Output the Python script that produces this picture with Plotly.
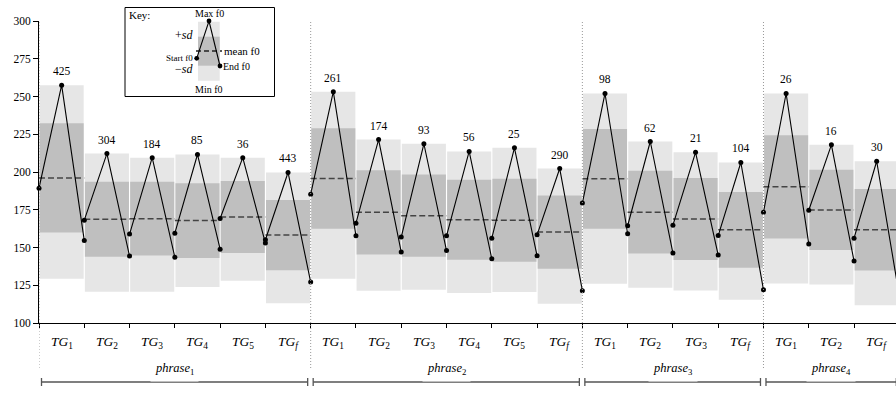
import plotly.graph_objects as go

# ---------------- data ----------------
phrases = ["1", "2", "3", "4"]
tg_labels = ["1", "2", "3", "4", "5", "f", "1", "2", "3", "4", "5", "f",
             "1", "2", "3", "f", "1", "2", "f"]
phrase_of = [0]*6 + [1]*6 + [2]*4 + [3]*3
counts = [425, 304, 184, 85, 36, 443, 261, 174, 93, 56, 25, 290,
          98, 62, 21, 104, 26, 16, 30]
max_f0 = [257.5, 212.2, 209.5, 211.6, 209.5, 199.7,
          253.2, 221.5, 218.7, 213.6, 216.0, 202.3,
          252.0, 220.2, 213.0, 206.3,
          252.0, 218.0, 207.1]
min_f0 = [129.3, 120.7, 120.7, 123.8, 128.0, 113.0,
          129.3, 121.4, 122.0, 119.8, 120.5, 112.8,
          126.0, 123.3, 121.6, 115.4,
          126.2, 125.5, 111.7]
mean_f0 = [196.1, 168.7, 169.1, 167.8, 170.2, 158.2,
           195.7, 173.3, 171.1, 168.4, 168.0, 160.2,
           195.5, 173.4, 168.9, 161.7,
           190.2, 174.9, 161.8]
sd_f0 = [36.2, 24.8, 24.4, 24.8, 23.9, 23.2,
         33.3, 27.9, 27.2, 26.5, 27.5, 24.3,
         33.0, 27.4, 27.2, 25.1,
         34.2, 26.6, 27.0]
start_f0 = [189.3, 168.1, 158.9, 159.5, 169.2, 155.1,
            185.3, 166.1, 156.9, 157.7, 156.2, 158.4,
            179.4, 164.4, 164.8, 157.9,
            173.4, 174.7, 156.2]
end_f0 = [154.6, 144.3, 143.6, 148.9, 152.9, 127.1,
          157.7, 147.0, 148.0, 142.5, 144.5, 121.4,
          159.1, 146.3, 145.0, 122.0,
          152.4, 141.0, 118.0]
y_ticks = [100, 125, 150, 175, 200, 225, 250, 275, 300]

# ---------------- styling ----------------
FONT = "Liberation Serif, DejaVu Serif, serif"
LIGHT = "#e6e6e6"
DARK = "#bfbfbf"
L, R, T, B = 39, 0, 21, 71
W, H = 896, 394
PW, PH = W - L - R, H - T - B
CAT_PX = 45.28
n = len(counts)


def px(x):
    return (x - L) / PW


def py(y):
    return (H - B - y) / PH


fig = go.Figure()
shapes = []
annotations = []
inset = 0.6 / CAT_PX

for i in range(n):
    shapes.append(dict(type="rect", xref="x", yref="y", x0=i + inset, x1=i + 1 - inset,
                       y0=min_f0[i], y1=max_f0[i], fillcolor=LIGHT, line=dict(width=0),
                       layer="below"))
    shapes.append(dict(type="rect", xref="x", yref="y", x0=i + inset, x1=i + 1 - inset,
                       y0=mean_f0[i] - sd_f0[i], y1=mean_f0[i] + sd_f0[i],
                       fillcolor=DARK, line=dict(width=0), layer="below"))
    shapes.append(dict(type="line", xref="x", yref="y", x0=i, x1=i + 1,
                       y0=mean_f0[i], y1=mean_f0[i],
                       line=dict(color="#444444", width=1.5, dash="6px,3px"), layer="below"))
    annotations.append(dict(x=i + 0.5, y=max_f0[i], xref="x", yref="y", text=str(counts[i]),
                            showarrow=False, yshift=14, font=dict(family=FONT, size=11.5, color="black")))
    annotations.append(dict(x=i + 0.5, y=py(353), xref="x", yref="paper",
                            text="<i>TG</i><sub>%s</sub>" % tg_labels[i] if tg_labels[i] != "f"
                            else "<i>TG<sub>f</sub></i>",
                            showarrow=False, font=dict(family=FONT, size=13.5, color="black")))

# contour lines
xs, ys = [], []
for i in range(n):
    xs += [i, i + 0.5, i + 1, None]
    ys += [start_f0[i], max_f0[i], end_f0[i], None]
fig.add_trace(go.Scatter(x=xs, y=ys, mode="lines+markers",
                         line=dict(color="black", width=1.1),
                         marker=dict(color="black", size=5), cliponaxis=False,
                         hoverinfo="skip", showlegend=False))

# phrase boundaries and brackets
bounds = [0]
for p in range(len(phrases)):
    bounds.append(bounds[-1] + phrase_of.count(p))
for b in bounds[:-1]:
    shapes.append(dict(type="line", xref="x", yref="paper", x0=b, x1=b, y0=py(368), y1=1,
                       line=dict(color="#999999", width=1, dash="1px,2px")))
yb = py(382)
tk = 4 / PH
for p in range(len(phrases)):
    a, b = bounds[p], bounds[p + 1]
    x0 = a + 2.5 / CAT_PX
    x1 = b - 3 / CAT_PX
    shapes.append(dict(type="line", xref="x", yref="paper", x0=x0, x1=x1, y0=yb, y1=yb,
                       line=dict(color="#555555", width=1.3)))
    for xx in (x0, x1):
        shapes.append(dict(type="line", xref="x", yref="paper", x0=xx, x1=xx,
                           y0=yb - tk, y1=yb + tk, line=dict(color="#555555", width=1.3)))
    annotations.append(dict(x=(a + b) / 2, y=yb, xref="x", yref="paper",
                            text="<i>phrase</i><sub>%s</sub>" % phrases[p], showarrow=False,
                            bgcolor="white", borderpad=4,
                            font=dict(family=FONT, size=12.5, color="black")))

# ---------------- key ----------------
shapes.append(dict(type="rect", xref="paper", yref="paper", x0=px(125), x1=px(274.5),
                   y0=py(96.5), y1=py(7.5), fillcolor="white", line=dict(color="black", width=1)))
shapes.append(dict(type="rect", xref="paper", yref="paper", x0=px(198), x1=px(219.7),
                   y0=py(80.7), y1=py(21.7), fillcolor=LIGHT, line=dict(width=0)))
shapes.append(dict(type="rect", xref="paper", yref="paper", x0=px(198), x1=px(219.7),
                   y0=py(65.7), y1=py(36.7), fillcolor=DARK, line=dict(width=0)))
shapes.append(dict(type="line", xref="paper", yref="paper", x0=px(196), x1=px(222),
                   y0=py(51), y1=py(51), line=dict(color="#222222", width=1.5, dash="5px,3px")))
kp = [(196.7, 58.3), (209, 21), (220, 66)]
path = "M %f,%f L %f,%f L %f,%f" % (px(kp[0][0]), py(kp[0][1]), px(kp[1][0]), py(kp[1][1]),
                                     px(kp[2][0]), py(kp[2][1]))
shapes.append(dict(type="path", xref="paper", yref="paper", path=path,
                   line=dict(color="black", width=1.1)))
rx, ry = 2.4 / PW, 2.4 / PH
for (kx, ky) in kp:
    shapes.append(dict(type="circle", xref="paper", yref="paper", x0=px(kx) - rx, x1=px(kx) + rx,
                       y0=py(ky) - ry, y1=py(ky) + ry, fillcolor="black", line=dict(width=0)))


def key_text(text, x, y, anchor, size=10):
    annotations.append(dict(x=px(x), y=py(y), xref="paper", yref="paper", text=text,
                            showarrow=False, xanchor=anchor, yanchor="middle",
                            font=dict(family=FONT, size=size, color="black")))


key_text("Key:", 127, 15, "left", 11)
key_text("Max f0", 209, 14, "center", 10)
key_text("+<i>sd</i>", 195, 35, "right", 12)
key_text("mean f0", 222, 51, "left", 11)
key_text("Start f0", 195, 58, "right", 9)
key_text("−<i>sd</i>", 195, 69, "right", 12)
key_text("End f0", 221, 66, "left", 10)
key_text("Min f0", 209, 89, "center", 10)

fig.update_layout(
    width=W, height=H, margin=dict(l=L, r=R, t=T, b=B),
    paper_bgcolor="white", plot_bgcolor="white",
    shapes=shapes, annotations=annotations, showlegend=False,
    font=dict(family=FONT, size=11, color="black"),
    xaxis=dict(range=[0, PW / CAT_PX], tickvals=list(range(n + 1)), showticklabels=False,
               ticks="outside", ticklen=4, tickcolor="black", showline=True, linecolor="black",
               linewidth=1, showgrid=False, zeroline=False, fixedrange=True),
    yaxis=dict(range=[100, 300], tickvals=y_ticks, ticks="outside", ticklen=5, tickcolor="black",
               showline=True, linecolor="black", linewidth=1, showgrid=False, zeroline=False,
               tickfont=dict(family=FONT, size=11.5), fixedrange=True),
)
fig.write_html("out.html", config={"displayModeBar": False},
               post_script="document.body.style.margin='0px';document.body.style.overflow='hidden';")
